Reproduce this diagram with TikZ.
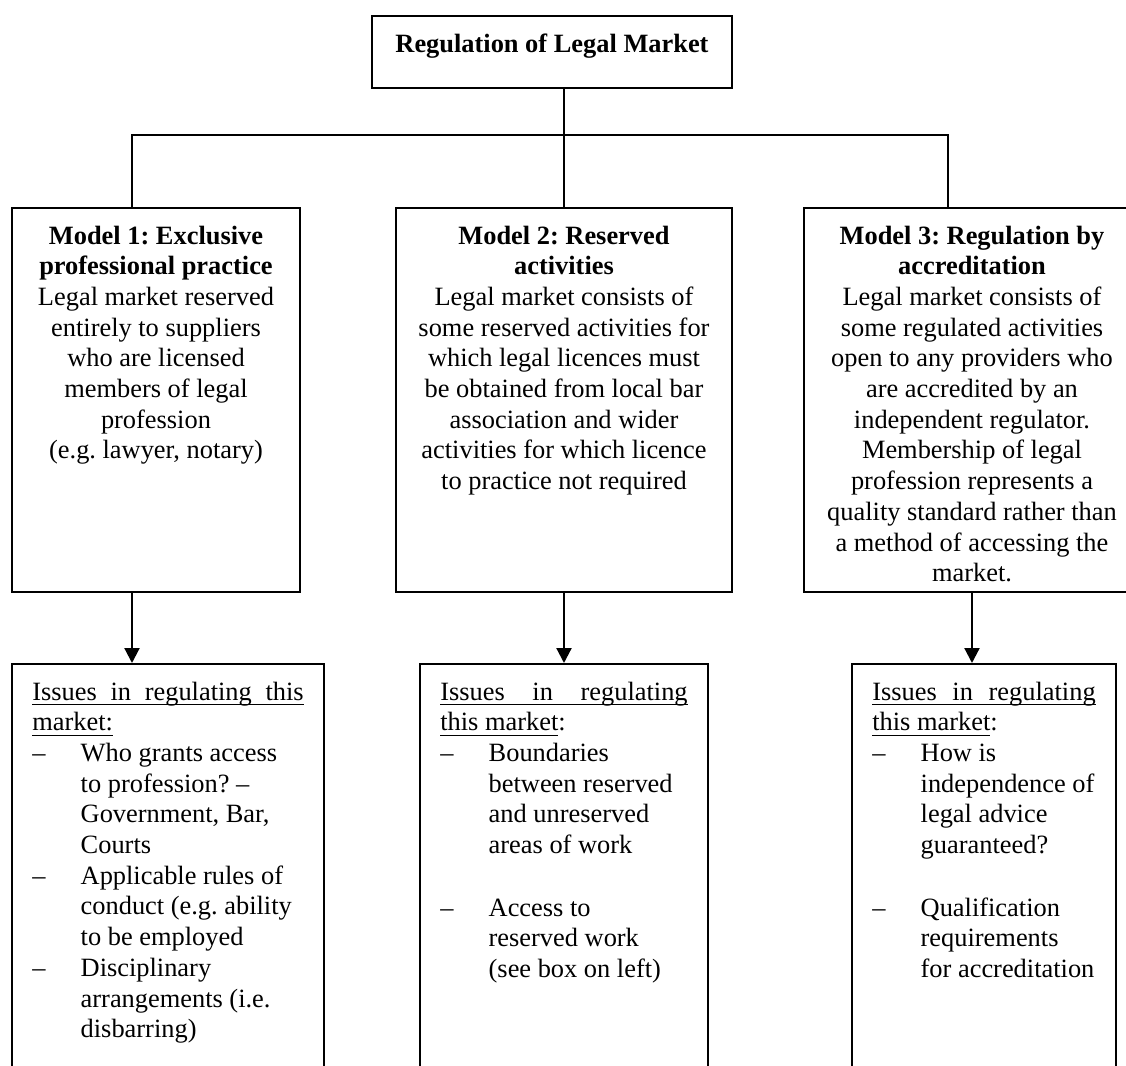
\documentclass[tikz,border=0pt]{standalone}
\usepackage{fontspec}
\setmainfont{Liberation Serif}
\usepackage{tikz}
\usetikzlibrary{arrows.meta, calc}
\frenchspacing
\tikzset{
  panel/.style={
    draw, line width=1pt, inner xsep=10pt, inner ysep=0pt,
    anchor=north, font=\fontsize{13.2}{15.35}\selectfont
  },
  link/.style={line width=1pt},
  arr/.style={line width=1.1pt, -{Triangle[length=7.5pt, width=7.5pt]}},
}
\newcommand{\boxtext}[4]{\parbox[t][#1][t]{#2}{#3\rule{0pt}{18pt}#4}}
\newcommand{\ulw}[1]{\leavevmode\setbox0\hbox{#1}\rlap{\rule[-2.6pt]{\wd0}{0.7pt}}\box0}
\newcommand{\itemdash}{\makebox[24.2pt][l]{--}}
\newcommand{\itemind}{\hspace*{24.2pt}}

\begin{document}
\begin{tikzpicture}[x=0.5pt, y=-0.5pt]
  \clip (0,0) rectangle (1126,1066);

  \node[panel] (title) at (552,15)
    {\boxtext{36pt}{160pt}{\centering}{\textbf{Regulation of Legal Market}}};

  \node[panel] (m1) at (156,207) {\boxtext{192pt}{124pt}{\centering}{%
    \textbf{Model 1: Exclusive}\\ \textbf{professional practice}\\
    Legal market reserved\\ entirely to suppliers\\ who are licensed\\
    members of legal\\ profession\\ (e.g. lawyer, notary)}};
  \node[panel] (m2) at (564,207) {\boxtext{192pt}{148pt}{\centering}{%
    \textbf{Model 2: Reserved}\\ \textbf{activities}\\
    Legal market consists of\\ some reserved activities for\\
    which legal licences must\\ be obtained from local bar\\
    association and wider\\ activities for which licence\\
    to practice not required}};
  \node[panel] (m3) at (972,207) {\boxtext{192pt}{148pt}{\centering}{%
    \textbf{Model 3: Regulation by}\\ \textbf{accreditation}\\
    Legal market consists of\\ some regulated activities\\
    open to any providers who\\ are accredited by an\\
    independent regulator.\\ Membership of legal\\
    profession represents a\\ quality standard rather than\\
    a method of accessing the\\ market.}};

  \node[panel] (iss1) at (168,663) {\boxtext{210pt}{135.7pt}{\raggedright}{%
    \ulw{\makebox[135.7pt][s]{Issues in regulating this}}\\ \ulw{market:}\\
    \itemdash Who grants access\\ \itemind to profession? --\\
    \itemind Government, Bar,\\ \itemind Courts\\
    \itemdash Applicable rules of\\ \itemind conduct (e.g. ability\\
    \itemind to be employed\\
    \itemdash Disciplinary\\ \itemind arrangements (i.e.\\ \itemind disbarring)}};
  \node[panel] (iss2) at (564,663) {\boxtext{210pt}{123.7pt}{\raggedright}{%
    \ulw{\makebox[123.7pt][s]{Issues in regulating}}\\ \ulw{this market}:\\
    \itemdash Boundaries\\ \itemind between reserved\\
    \itemind and unreserved\\ \itemind areas of work\\[16pt]
    \itemdash Access to\\ \itemind reserved work\\ \itemind (see box on left)}};
  \node[panel] (iss3) at (984,663) {\boxtext{210pt}{111.7pt}{\raggedright}{%
    \ulw{\makebox[111.7pt][s]{Issues in regulating}}\\ \ulw{this market}:\\
    \itemdash How is\\ \itemind independence of\\
    \itemind legal advice\\ \itemind guaranteed?\\[16pt]
    \itemdash Qualification\\ \itemind requirements\\ \itemind for accreditation}};

  % tree lines
  \coordinate (busL) at (132,134.5);
  \coordinate (busR) at (948,134.5);
  \draw[link] (title.south -| m2.north) -- (m2.north);
  \draw[link] (busL |- m1.north) -- (busL) -- (busR) -- (busR |- m3.north);

  \draw[arr] (m1.south -| busL) -- (iss1.north -| busL);
  \draw[arr] (m2.south) -- (iss2.north);
  \draw[arr] (m3.south) -- (m3.south |- iss3.north);
\end{tikzpicture}
\end{document}
